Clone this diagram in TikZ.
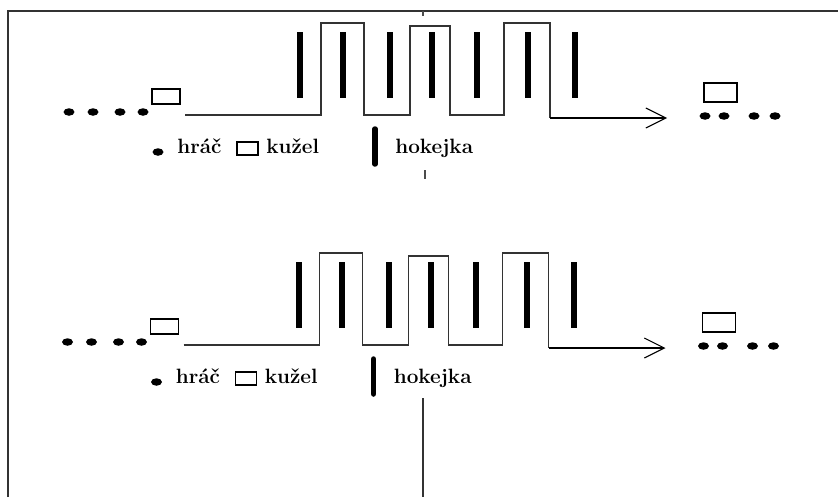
\documentclass[tikz,border=0pt]{standalone}
\usetikzlibrary{arrows.meta, shapes.geometric}
\tikzset{
    player/.style={ellipse, fill, inner sep=0, minimum width=0.22cm, minimum height=0.15cm},
    cone/.style={draw, line width=0.6pt, inner sep=0},
    stick/.style={fill, inner sep=0, minimum width=0.12cm, minimum height=1.32cm},
    label/.style={inner sep=0, anchor=base west, font=\fontsize{11.8}{14}\selectfont\bfseries},
    route/.style={line width=0.6pt, black!80},
}

\begin{document}
\begin{tikzpicture}[x=0.02cm, y=-0.02cm, >={Straight Barb[length=0.4cm, width=0.4cm]}]
        \useasboundingbox (0, 0) rectangle (838, 497);
        \draw[line width=0.6pt, black!80] (8, 497) -- (8, 11) -- (838, 11);
        \draw[line width=0.6pt, black!70] (423, 11) -- (423, 16);
        \draw[line width=0.6pt, black!70] (425, 170) -- (425, 179);
        \draw[line width=0.6pt, black!80] (423, 398) -- (423, 497);
        \foreach \dx/\dy in {0/0, -1.5/230} {
            \begin{scope}[shift={(\dx, \dy)}]
                % players waiting and the first cone
                \foreach \x [count=\i] in {69, 93, 120, 143}
                    \node[player] (wait\i) at (\x, 112) {};
                \node[cone, minimum width=0.56cm, minimum height=0.3cm] (cone1) at (166, 96.5) {};
                \node[cone, minimum width=0.66cm, minimum height=0.38cm] (cone2) at (720.5, 92.5) {};
                \foreach \x [count=\i] in {705, 724, 754, 775}
                    \node[player] (done\i) at (\x, 116) {};
                % hockey sticks
                \foreach \x [count=\i] in {300, 343, 390, 432, 477, 528, 575}
                    \node[stick] (stick\i) at (\x, 65) {};
                % the route
                \coordinate (start) at (185, 115);
                \coordinate (goal) at (667, 118);
                \draw[route] (start) -| (321, 23) -| (364, 115) -| (410, 26)
                    -| (450, 115) -| (504, 23) -| (550, 118);
                \draw[route, black, ->] (550, 118) -- (goal);
                % legend
                \node[player] (keyplayer) at (158, 152) {};
                \node[label] (hrac) at (177, 153) {hráč};
                \node[cone, minimum width=0.42cm, minimum height=0.26cm] (keycone) at (247.5, 148.5) {};
                \node[label] (kuzel) at (266, 153) {kužel};
                \draw[line width=0.11cm, line cap=round] (375, 129) -- (375, 164);
                \node[label] (hokejka) at (395, 153) {hokejka};
            \end{scope}
        }
    \end{tikzpicture}
\end{document}
